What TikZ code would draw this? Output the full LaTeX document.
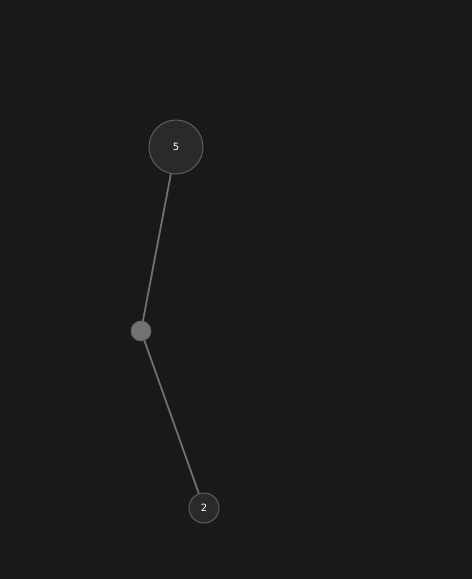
\documentclass[tikz,border=0pt]{standalone}
\usepackage{fontspec}
\setmainfont{DejaVu Sans}
\definecolor{bg}{HTML}{191919}
\definecolor{nodefill}{HTML}{2A2A2A}
\definecolor{nodeline}{HTML}{5E5E5E}
\definecolor{edgecol}{HTML}{707070}
\definecolor{hubfill}{HTML}{727272}
\tikzset{
  numnode/.style={circle, draw=nodeline, line width=1pt, fill=nodefill, text=white, font=\fontsize{10}{12}\selectfont, inner sep=0pt},
  hubnode/.style={circle, draw=nodeline, line width=0.8pt, fill=hubfill, inner sep=0pt, minimum size=20pt},
  edge/.style={draw=edgecol, line width=1.8pt}
}
\begin{document}
\begin{tikzpicture}[x=1pt,y=-1pt]
\fill[bg] (0,0) rectangle (472,579);
\useasboundingbox (0,0) rectangle (472,579);
\node[numnode, minimum size=54pt] (a) at (176,147) {5};
\node[hubnode] (h) at (141,331) {};
\node[numnode, minimum size=30pt] (b) at (204,508) {2};
\draw[edge] (a) -- (h);
\draw[edge] (h) -- (b);
\end{tikzpicture}
\end{document}
